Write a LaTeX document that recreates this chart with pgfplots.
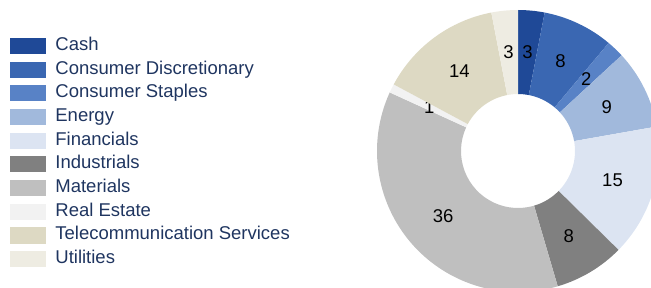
\documentclass[border=0pt]{standalone}
\usepackage{pgfplots}
\pgfplotsset{compat=1.18}
\usepackage{pgfplotstable}
\usepackage{fontspec}
\setmainfont{Liberation Sans}
\definecolor{cCash}{HTML}{1F4997}
\definecolor{cDisc}{HTML}{3A67B2}
\definecolor{cStap}{HTML}{5882C6}
\definecolor{cEner}{HTML}{A1B9DC}
\definecolor{cFin}{HTML}{DCE4F2}
\definecolor{cInd}{HTML}{808080}
\definecolor{cMat}{HTML}{BFBFBF}
\definecolor{cReal}{HTML}{F2F2F2}
\definecolor{cTel}{HTML}{DDD9C3}
\definecolor{cUtil}{HTML}{EEECE2}
\definecolor{legtext}{HTML}{1F3560}
\pgfplotstableread[col sep=comma]{
name,value,color
Cash,3,cCash
Consumer Discretionary,8,cDisc
Consumer Staples,2,cStap
Energy,9,cEner
Financials,15,cFin
Industrials,8,cInd
Materials,36,cMat
Real Estate,1,cReal
Telecommunication Services,14,cTel
Utilities,3,cUtil
}\sectordata
\begin{document}
\begin{tikzpicture}
\path[use as bounding box] (0,0) rectangle (651pt,287pt);
\begin{axis}[
  at={(0,0)}, anchor=south west,
  x=1pt, y=1pt, scale only axis,
  xmin=0, xmax=651, ymin=0, ymax=287,
  hide axis, clip=true,
  legend cell align=left,
  legend image code/.code={\fill[#1, draw=none] (0pt,-8pt) rectangle (36pt,8pt); \path (45pt,0pt);},
  legend style={draw=none, fill=none, at={(axis cs:10,249.8)}, anchor=north west,
    inner sep=0pt, row sep=6.7pt,
    font=\fontsize{18.5}{22}\selectfont\color{legtext},
    nodes={inner sep=0pt, text height=13pt, text depth=4pt}},
]
\addlegendimage{fill=cCash}\addlegendentry{Cash}
\addlegendimage{fill=cDisc}\addlegendentry{Consumer Discretionary}
\addlegendimage{fill=cStap}\addlegendentry{Consumer Staples}
\addlegendimage{fill=cEner}\addlegendentry{Energy}
\addlegendimage{fill=cFin}\addlegendentry{Financials}
\addlegendimage{fill=cInd}\addlegendentry{Industrials}
\addlegendimage{fill=cMat}\addlegendentry{Materials}
\addlegendimage{fill=cReal}\addlegendentry{Real Estate}
\addlegendimage{fill=cTel}\addlegendentry{Telecommunication Services}
\addlegendimage{fill=cUtil}\addlegendentry{Utilities}
\def\cumsum{0}
\def\total{99}
\pgfplotsforeachungrouped \i in {0,...,9}{%
  \pgfplotstablegetelem{\i}{value}\of\sectordata \let\secval=\pgfplotsretval
  \pgfplotstablegetelem{\i}{color}\of\sectordata \let\seccol=\pgfplotsretval
  \pgfmathsetmacro\anga{90-\cumsum/\total*360}
  \pgfmathsetmacro\angb{90-(\cumsum+\secval)/\total*360}
  \pgfmathsetmacro\angm{(\anga+\angb)/2}
  \edef\temp{\noexpand\fill[\seccol] ([shift={(\anga:141pt)}]axis cs:518,136) arc[start angle=\anga, end angle=\angb, radius=141pt] -- ([shift={(\angb:57pt)}]axis cs:518,136) arc[start angle=\angb, end angle=\anga, radius=57pt] -- cycle;}%
  \temp
  \edef\temp{\noexpand\node[font=\noexpand\fontsize{18.5}{22}\noexpand\selectfont, text=black, inner sep=0pt] at ([shift={(\angm:99pt)}]axis cs:518,136) {\secval};}%
  \temp
  \pgfmathsetmacro\cumnew{\cumsum+\secval}\let\cumsum=\cumnew
}
\end{axis}
\end{tikzpicture}
\end{document}
